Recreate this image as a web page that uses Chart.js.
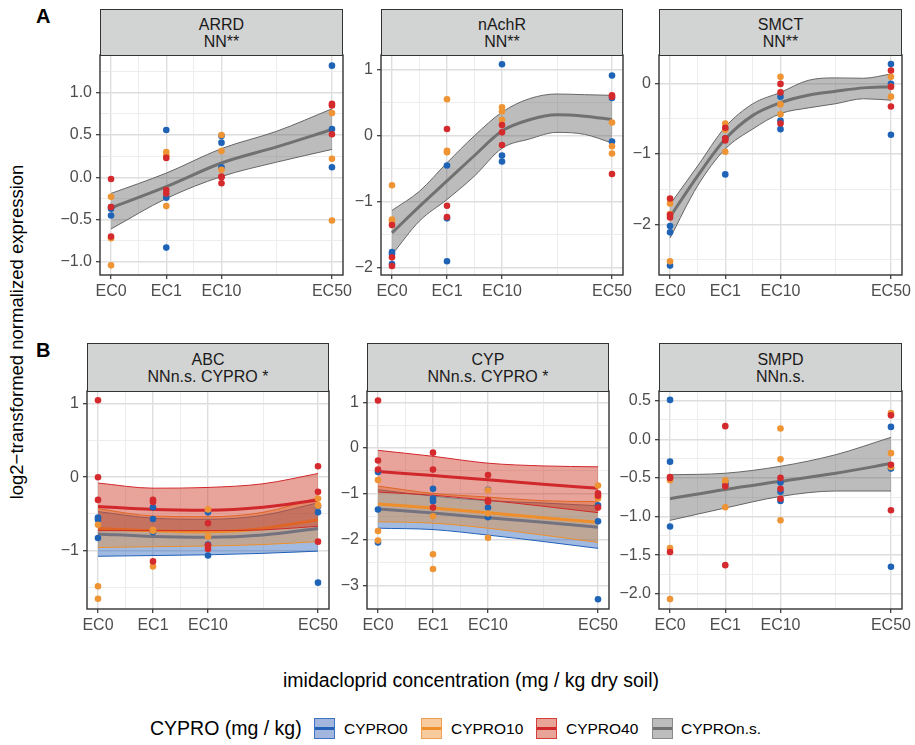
<!DOCTYPE html>
<html>
<head>
<meta charset="utf-8">
<script src="https://cdn.jsdelivr.net/npm/chart.js@4.4.1/dist/chart.umd.min.js"></script>
<style>
  body { margin: 0; background: #fff; font-family: "Liberation Sans", Arial, sans-serif; }
  #fig { position: relative; width: 915px; height: 745px; overflow: hidden; }
  canvas { position: absolute; }
  .strip { position: absolute; box-sizing: border-box; background: #d2d3d3; border: 1.4px solid #333;
           color: #1a1a1a; font-size: 16px; line-height: 17px; text-align: center; padding-top: 6px; z-index: 2; }
  .tag { position: absolute; font-weight: bold; font-size: 20px; line-height: 20px; color: #000; }
  .title { position: absolute; white-space: nowrap; color: #000; font-size: 19.5px; }
  .key { position: absolute; top: 718px; width: 21px; height: 21px; box-sizing: border-box; border: 1.5px solid; }
  .key i { position: absolute; left: 0; right: 0; top: 8px; height: 3px; }
  .lab { position: absolute; top: 719px; font-size: 15.5px; line-height: 19px; color: #000; white-space: nowrap; }
</style>
</head>
<body>
<div id="fig">
  <div class="tag" style="left:36px;top:6px">A</div>
  <div class="tag" style="left:36px;top:340px">B</div>
  <div class="title" style="left:17px;top:332px;font-size:18.5px;transform:translate(-50%,-50%) rotate(-90deg)">log2&#8722;transformed normalized expression</div>
  <div class="title" style="left:471px;top:680px;transform:translate(-50%,-50%)">imidacloprid concentration (mg / kg dry soil)</div>

  <div class="lab" style="left:150px;top:716px;font-size:19.5px;line-height:24px">CYPRO (mg / kg)</div>
  <div class="key" style="left:314px;background:#a3b6dd;border-color:#3f74c4"><i style="background:#2262b8"></i></div>
  <div class="lab" style="left:344px">CYPRO0</div>
  <div class="key" style="left:421px;background:#f7cb9e;border-color:#f0a050"><i style="background:#ee8f2c"></i></div>
  <div class="lab" style="left:451px">CYPRO10</div>
  <div class="key" style="left:536px;background:#e8a597;border-color:#d3403c"><i style="background:#d1282c"></i></div>
  <div class="lab" style="left:566px">CYPRO40</div>
  <div class="key" style="left:652px;background:#bdbdbd;border-color:#8a8a8a"><i style="background:#717171"></i></div>
  <div class="lab" style="left:681px">CYPROn.s.</div>
</div>

<script>
// x axis: EC levels and their place on the axis
const ecLabels = ['EC0', 'EC1', 'EC10', 'EC50'];
const ecPos = [0, 1, 2, 4];
const xMinor = [0.5, 1.5, 3];
const fitX5 = [0, 1, 2, 3, 4];
const fitX9 = [0, 0.5, 1, 1.5, 2, 2.5, 3, 3.5, 4];

// y ticks per panel
const arrdTicks = [-1, -0.5, 0, 0.5, 1];
const arrdMinor = [-0.75, -0.25, 0.25, 0.75, 1.25];
const nachrTicks = [-2, -1, 0, 1];
const nachrMinor = [-1.5, -0.5, 0.5];
const smctTicks = [-2, -1, 0];
const smctMinor = [-2.5, -1.5, -0.5];
const abcTicks = [-1, 0, 1];
const abcMinor = [-1.5, -0.5, 0.5];
const cypTicks = [-3, -2, -1, 0, 1];
const cypMinor = [-3.5, -2.5, -1.5, -0.5, 0.5];
const smpdTicks = [-2, -1.5, -1, -0.5, 0, 0.5];
const smpdMinor = [-1.75, -1.25, -0.75, -0.25, 0.25];

// measured values, one inner list per EC level (EC0, EC1, EC10, EC50)
const arrdBlue = [[-0.35, -0.37, -0.45], [0.56, -0.24, -0.83], [0.49, 0.41, 0.12], [1.32, 0.57, 0.12]];
const arrdOrange = [[-0.23, -0.72, -1.04], [0.30, 0.26, -0.34], [0.50, 0.31, 0.09], [0.76, 0.22, -0.51]];
const arrdRed = [[-0.02, -0.35, -0.70], [0.23, -0.15, -0.19], [0.00, -0.07, 0.01], [0.87, 0.85, 0.51]];

const nachrBlue = [[-1.76, -1.79, -1.94], [-0.45, -1.25, -1.90], [1.08, -0.30, -0.39], [0.91, 0.57, -0.09]];
const nachrOrange = [[-0.75, -1.27, -1.29], [0.55, -0.23, -0.25], [0.43, 0.37, 0.24], [0.20, -0.16, -0.27]];
const nachrRed = [[-1.35, -1.84, -1.97], [0.10, -1.06, -1.23], [0.16, 0.05, -0.14], [0.61, 0.59, -0.58]];

const smctBlue = [[-2.02, -2.11, -2.58], [-1.29, -0.78, -0.64], [-0.19, -0.53, -0.65], [0.27, -0.01, -0.73]];
const smctOrange = [[-1.70, -1.85, -2.52], [-0.57, -0.97, -0.66], [0.09, -0.30, -0.44], [0.09, -0.19, -0.05]];
const smctRed = [[-1.63, -1.90, -1.86], [-0.63, -0.78, -0.81], [-0.01, -0.13, -0.57], [0.18, -0.05, -0.33]];

const abcBlue = [[-0.55, -0.58, -0.83], [-0.41, -0.57, -0.75], [-0.48, -0.92, -1.07], [-0.40, -0.48, -1.44]];
const abcOrange = [[-0.65, -1.49, -1.66], [-0.73, -1.22, -0.72], [-0.44, -0.81, -0.95], [-0.29, -0.39, -0.38]];
const abcRed = [[1.05, 0.00, -0.31], [-0.31, -0.34, -1.15], [-0.63, -0.93, -0.98], [0.15, -0.20, -0.88]];

const cypBlue = [[-0.52, -1.34, -2.06], [-0.89, -1.10, -1.16], [-0.91, -1.30, -1.51], [-1.25, -1.60, -3.30]];
const cypOrange = [[-0.70, -1.81, -2.02], [-1.49, -2.32, -2.64], [-0.92, -1.43, -1.96], [-0.82, -1.10, -1.05]];
const cypRed = [[1.04, -0.27, -0.47], [-0.10, -0.47, -1.30], [-0.59, -1.14, -1.17], [-0.99, -1.04, -1.30]];

const smpdBlue = [[0.51, -0.29, -1.13], [-0.55, -0.57, -0.59], [-0.56, -0.68, -0.80], [0.16, -0.38, -1.65]];
const smpdOrange = [[-0.53, -1.41, -2.07], [-0.53, -0.88, -0.55], [0.14, -0.26, -1.05], [0.34, -0.18, -0.36]];
const smpdRed = [[-0.49, -1.46, -0.50], [0.17, -0.61, -1.63], [-0.50, -0.64, -0.77], [0.31, -0.33, -0.92]];

// smooth fits: centre line and confidence band (lower / upper)
const arrdFit = [-0.36, -0.11, 0.17, 0.36, 0.565];
const arrdLo = [-0.61, -0.25, 0.01, 0.18, 0.33];
const arrdHi = [-0.19, 0.05, 0.34, 0.545, 0.81];

const nachrFit = [-1.47, -1.07, -0.685, -0.30, 0.07, 0.24, 0.315, 0.295, 0.244];
const nachrLo = [-1.80, -1.29, -0.965, -0.61, -0.19, -0.05, 0.05, 0.02, -0.11];
const nachrHi = [-1.13, -0.84, -0.41, 0.0, 0.355, 0.56, 0.63, 0.62, 0.61];

const smctFit = [-1.89, -1.31, -0.79, -0.455, -0.275, -0.17, -0.115, -0.066, -0.05];
const smctLo = [-2.19, -1.45, -0.93, -0.646, -0.43, -0.35, -0.29, -0.22, -0.24];
const smctHi = [-1.715, -1.17, -0.62, -0.29, -0.13, 0.04, 0.075, 0.07, 0.13];

const smpdFit = [-0.77, -0.65, -0.545, -0.44, -0.315];
const smpdLo = [-1.05, -0.89, -0.74, -0.67, -0.67];
const smpdHi = [-0.46, -0.44, -0.35, -0.20, 0.025];

const abcRedFit = [-0.40, -0.44, -0.45, -0.41, -0.31];
const abcRedLo = [-0.73, -0.73, -0.73, -0.72, -0.67];
const abcRedHi = [-0.08, -0.15, -0.14, -0.09, 0.05];
const abcOrangeFit = [-0.70, -0.73, -0.745, -0.70, -0.58];
const abcOrangeLo = [-0.96, -0.95, -0.94, -0.92, -0.88];
const abcOrangeHi = [-0.43, -0.53, -0.54, -0.48, -0.28];
const abcBlueFit = [-0.775, -0.81, -0.82, -0.79, -0.70];
const abcBlueLo = [-1.08, -1.07, -1.06, -1.04, -1.01];
const abcBlueHi = [-0.47, -0.56, -0.575, -0.52, -0.35];

const cypRedFit = [-0.51, -0.60, -0.69, -0.79, -0.88];
const cypRedLo = [-0.96, -1.03, -1.14, -1.27, -1.41];
const cypRedHi = [-0.05, -0.18, -0.33, -0.39, -0.41];
const cypOrangeFit = [-1.22, -1.31, -1.41, -1.52, -1.62];
const cypOrangeLo = [-1.61, -1.64, -1.75, -1.90, -2.06];
const cypOrangeHi = [-0.83, -0.99, -1.07, -1.15, -1.17];
const cypBlueFit = [-1.33, -1.42, -1.52, -1.62, -1.73];
const cypBlueLo = [-1.75, -1.78, -1.90, -2.04, -2.19];
const cypBlueHi = [-0.91, -1.05, -1.15, -1.20, -1.26];

const FONT = '"Liberation Sans", Arial, sans-serif';
Chart.defaults.font.family = FONT;

const col = {
  blue:   { pt: '#1f63b6', line: '#2262b8', edge: '#2262b8', fill: 'rgba(31,90,185,0.42)' },
  orange: { pt: '#ee9435', line: '#ee8f2c', edge: '#ee8f2c', fill: 'rgba(238,140,40,0.40)' },
  red:    { pt: '#d42a2d', line: '#d1282c', edge: '#d1282c', fill: 'rgba(205,50,30,0.45)' },
  grey:   { pt: '#777777', line: '#717171', edge: '#666666', fill: 'rgba(100,100,100,0.43)' }
};
const fitOrder = { red: 1, orange: 2, blue: 3, grey: 1 };

// layout of the six panels (plot area in page pixels)
const panels = [
  { title: ['ARRD', 'NN**'], left: 100, top: 55, w: 243, h: 220, strip: 46, yMin: -1.154, yMax: 1.446,
    major: arrdTicks, minor: arrdMinor, dec: 1, pts: [arrdBlue, arrdOrange, arrdRed],
    fits: [{ c: 'grey', x: fitX5, mid: arrdFit, lo: arrdLo, hi: arrdHi }] },
  { title: ['nAchR', 'NN**'], left: 381, top: 55, w: 242, h: 220, strip: 46, yMin: -2.107, yMax: 1.22,
    major: nachrTicks, minor: nachrMinor, dec: 0, pts: [nachrBlue, nachrOrange, nachrRed],
    fits: [{ c: 'grey', x: fitX9, mid: nachrFit, lo: nachrLo, hi: nachrHi }] },
  { title: ['SMCT', 'NN**'], left: 659, top: 55, w: 243, h: 220, strip: 46, yMin: -2.713, yMax: 0.399,
    major: smctTicks, minor: smctMinor, dec: 0, pts: [smctBlue, smctOrange, smctRed],
    fits: [{ c: 'grey', x: fitX9, mid: smctFit, lo: smctLo, hi: smctHi }] },
  { title: ['ABC', 'NNn.s. CYPRO *'], left: 87, top: 391, w: 242, h: 218, strip: 48, yMin: -1.80, yMax: 1.177,
    major: abcTicks, minor: abcMinor, dec: 0, pts: [abcBlue, abcOrange, abcRed],
    fits: [{ c: 'blue', x: fitX5, mid: abcBlueFit, lo: abcBlueLo, hi: abcBlueHi },
           { c: 'orange', x: fitX5, mid: abcOrangeFit, lo: abcOrangeLo, hi: abcOrangeHi },
           { c: 'red', x: fitX5, mid: abcRedFit, lo: abcRedLo, hi: abcRedHi }] },
  { title: ['CYP', 'NNn.s. CYPRO *'], left: 367, top: 391, w: 242, h: 218, strip: 48, yMin: -3.514, yMax: 1.246,
    major: cypTicks, minor: cypMinor, dec: 0, pts: [cypBlue, cypOrange, cypRed],
    fits: [{ c: 'blue', x: fitX5, mid: cypBlueFit, lo: cypBlueLo, hi: cypBlueHi },
           { c: 'orange', x: fitX5, mid: cypOrangeFit, lo: cypOrangeLo, hi: cypOrangeHi },
           { c: 'red', x: fitX5, mid: cypRedFit, lo: cypRedLo, hi: cypRedHi }] },
  { title: ['SMPD', 'NNn.s.'], left: 659, top: 391, w: 243, h: 218, strip: 48, yMin: -2.198, yMax: 0.625,
    major: smpdTicks, minor: smpdMinor, dec: 1, pts: [smpdBlue, smpdOrange, smpdRed],
    fits: [{ c: 'grey', x: fitX5, mid: smpdFit, lo: smpdLo, hi: smpdHi }] }
];

const PAD_L = 70, PAD_T = 16, PAD_R = 25, PAD_B = 35;
const fig = document.getElementById('fig');

const fmt = (v, dec) => (v < 0 ? '\u2212' : '') + Math.abs(v).toFixed(dec);
const sorted = arr => arr.slice().sort((a, b) => a - b);

const gridOpts = major => {
  const isMajor = c => c.tick && major.includes(c.tick.value);
  return {
    color: c => isMajor(c) ? '#dedede' : '#ebebeb',
    lineWidth: c => isMajor(c) ? 1.4 : 0.9,
    tickColor: c => isMajor(c) ? '#333333' : 'rgba(0,0,0,0)',
    tickLength: 4,
    tickWidth: 1.2
  };
};

// dark frame round the plot area
const frame = {
  id: 'frame',
  afterDatasetsDraw(chart) {
    const { ctx, chartArea: a } = chart;
    ctx.save();
    ctx.strokeStyle = '#333';
    ctx.lineWidth = 1.4;
    ctx.strokeRect(a.left, a.top, a.right - a.left, a.bottom - a.top);
    ctx.restore();
  }
};

function fitSets(f) {
  const c = col[f.c];
  const o = fitOrder[f.c];
  const xy = arr => f.x.map((x, i) => ({ x: x, y: arr[i] }));
  const base = { type: 'line', pointRadius: 0, cubicInterpolationMode: 'monotone' };
  return [
    { ...base, data: xy(f.lo), borderColor: c.edge, borderWidth: 1, fill: false, order: o + 0.2 },
    { ...base, data: xy(f.hi), borderColor: c.edge, borderWidth: 1, fill: '-1', backgroundColor: c.fill, order: o + 0.1 },
    { ...base, data: xy(f.mid), borderColor: c.line, borderWidth: 3, fill: false, order: o }
  ];
}

function pointSet(groups, c, o) {
  const data = groups.flatMap((g, i) => g.map(y => ({ x: ecPos[i], y: y })));
  return { type: 'scatter', data: data, backgroundColor: col[c].pt, pointRadius: 3.3, pointBorderWidth: 0, order: o };
}

function drawPanel(p) {
  const strip = document.createElement('div');
  strip.className = 'strip';
  strip.style.cssText = `left:${p.left}px;top:${p.top - p.strip}px;width:${p.w}px;height:${p.strip + 1}px;` +
    (p.strip > 46 ? 'padding-top:7px;' : '');
  strip.innerHTML = p.title.join('<br>');
  fig.appendChild(strip);

  const cv = document.createElement('canvas');
  const W = p.w + PAD_L + PAD_R, H = p.h + PAD_T + PAD_B;
  cv.width = W; cv.height = H;
  cv.style.cssText = `left:${p.left - PAD_L}px;top:${p.top - PAD_T}px;width:${W}px;height:${H}px`;
  fig.appendChild(cv);

  const datasets = [];
  p.fits.forEach(f => datasets.push(...fitSets(f)));
  datasets.push(pointSet(p.pts[2], 'red', 0));
  datasets.push(pointSet(p.pts[1], 'orange', 0.1));
  datasets.push(pointSet(p.pts[0], 'blue', 0.2));

  new Chart(cv, {
    type: 'scatter',
    data: { datasets: datasets },
    options: {
      responsive: false,
      animation: false,
      events: [],
      layout: { padding: { top: PAD_T, right: PAD_R, left: 0, bottom: 0 } },
      plugins: { legend: { display: false }, tooltip: { enabled: false } },
      scales: {
        x: {
          type: 'linear', min: -0.2, max: 4.2,
          afterBuildTicks: s => { s.ticks = sorted(ecPos.concat(xMinor)).map(v => ({ value: v })); },
          afterFit: s => { s.height = PAD_B; },
          ticks: {
            autoSkip: false, maxRotation: 0, padding: 3, color: '#4d4d4d', font: { size: 16 },
            callback: v => { const i = ecPos.indexOf(v); return i < 0 ? '' : ecLabels[i]; }
          },
          grid: gridOpts(ecPos),
          border: { display: false }
        },
        y: {
          type: 'linear', min: p.yMin, max: p.yMax,
          afterBuildTicks: s => { s.ticks = sorted(p.major.concat(p.minor)).map(v => ({ value: v })); },
          afterFit: s => { s.width = PAD_L; },
          ticks: {
            autoSkip: false, padding: 4, color: '#4d4d4d', font: { size: 16 },
            callback: v => p.major.includes(v) ? fmt(v, p.dec) : ''
          },
          grid: gridOpts(p.major),
          border: { display: false }
        }
      }
    },
    plugins: [frame]
  });
}

panels.forEach(drawPanel);
</script>
</body>
</html>
